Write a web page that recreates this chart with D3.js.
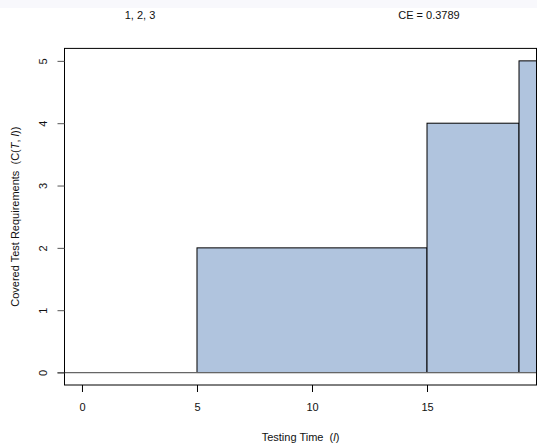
<!DOCTYPE html>
<html>
<head>
<meta charset="utf-8">
<script src="https://cdn.jsdelivr.net/npm/d3@7"></script>
<style>
  body { margin: 0; background: #fff; }
  text { font-family: "Liberation Sans", Arial, sans-serif; fill: #111; white-space: pre; }
</style>
</head>
<body>
<div id="chart"></div>
<script>
// step data: time where coverage changes, covered requirements from that time on
const stepTimes = [0, 5, 15, 19]
const stepCovered = [0, 2, 4, 5]
const xTicks = [0, 5, 10, 15]
const yTicks = [0, 1, 2, 3, 4, 5]
const titleLeft = "1, 2, 3"
const titleRight = "CE = 0.3789"

const W = 537, H = 443
const margin = { top: 48.4, right: 0.5, bottom: 58, left: 64.5 }

const svg = d3.select("#chart").append("svg")
    .attr("width", W).attr("height", H)

// faint strip at the top of the page
svg.append("rect").attr("x", 0).attr("y", 0).attr("width", W).attr("height", 8)
    .attr("fill", "#f8f8fc")

// R style 4% extension of the ranges
const xMax = d3.max(stepTimes), yMax = d3.max(stepCovered)
const x = d3.scaleLinear()
    .domain([-0.04 * xMax, xMax * 1.04])
    .range([margin.left, W - margin.right])
const y = d3.scaleLinear()
    .domain([-0.04 * yMax, yMax * 1.04])
    .range([H - margin.bottom, margin.top])

svg.append("clipPath").attr("id", "plotclip")
    .append("rect")
    .attr("x", x.range()[0]).attr("y", y.range()[1])
    .attr("width", x.range()[1] - x.range()[0])
    .attr("height", y.range()[0] - y.range()[1])

const plot = svg.append("g").attr("clip-path", "url(#plotclip)")

// one rectangle per step, the last runs to the end of the axis
const steps = stepTimes.map((t, i) => ({
    x0: t,
    x1: i < stepTimes.length - 1 ? stepTimes[i + 1] : x.domain()[1],
    v: stepCovered[i]
}))

plot.selectAll("rect.step")
    .data(steps.filter(d => d.v > 0))
    .join("rect")
    .attr("class", "step")
    .attr("x", d => x(d.x0))
    .attr("y", d => y(d.v))
    .attr("width", d => x(d.x1) - x(d.x0))
    .attr("height", d => y(0) - y(d.v))
    .attr("fill", "#b0c4de")
    .attr("stroke", "#000")
    .attr("stroke-width", 1)

// zero line
svg.append("line")
    .attr("x1", x.range()[0] - 7).attr("x2", x.range()[1])
    .attr("y1", y(0)).attr("y2", y(0))
    .attr("stroke", "#666").attr("stroke-width", 1.3)

// box
svg.append("rect")
    .attr("x", x.range()[0]).attr("y", y.range()[1])
    .attr("width", x.range()[1] - x.range()[0])
    .attr("height", y.range()[0] - y.range()[1])
    .attr("fill", "none").attr("stroke", "#000").attr("stroke-width", 1)

// x axis
const xAxis = svg.append("g")
    .attr("transform", `translate(0,${y.range()[0]})`)
    .call(d3.axisBottom(x).tickValues(xTicks).tickSize(7).tickPadding(11))
xAxis.select(".domain").remove()
xAxis.selectAll("text").style("font-size", "11px").attr("fill", "#111")
xAxis.selectAll("line").attr("stroke", "#000")

// y axis, labels turned like R's las = 0
const yAxis = svg.append("g")
    .attr("transform", `translate(${x.range()[0]},0)`)
    .call(d3.axisLeft(y).tickValues(yTicks).tickFormat(d3.format("d")).tickSize(7))
yAxis.select(".domain").remove()
yAxis.selectAll("line").attr("stroke", "#555")
yAxis.selectAll("text")
    .style("font-size", "11px").attr("fill", "#111")
    .attr("text-anchor", "middle")
    .attr("x", 0).attr("y", 0).attr("dy", "0.35em")
    .attr("transform", "translate(-21.5,0) rotate(-90)")

// axis titles
const xLab = svg.append("text")
    .attr("x", (x.range()[0] + x.range()[1]) / 2).attr("y", 441)
    .attr("text-anchor", "middle").style("font-size", "11px")
xLab.append("tspan").text("Testing Time  (")
xLab.append("tspan").style("font-style", "italic").text("l")
xLab.append("tspan").text(")")

const yLab = svg.append("text")
    .attr("transform", `translate(19,${(y.range()[0] + y.range()[1]) / 2}) rotate(-90)`)
    .attr("text-anchor", "middle").style("font-size", "11px")
yLab.append("tspan").text("Covered Test Requirements  (C(")
yLab.append("tspan").style("font-style", "italic").text("T")
yLab.append("tspan").text(", ")
yLab.append("tspan").style("font-style", "italic").text("l")
yLab.append("tspan").text("))")

// titles
svg.append("text").attr("x", 140).attr("y", 19)
    .attr("text-anchor", "middle").style("font-size", "11px").text(titleLeft)
svg.append("text").attr("x", 429).attr("y", 19)
    .attr("text-anchor", "middle").style("font-size", "11px").text(titleRight)
</script>
</body>
</html>
